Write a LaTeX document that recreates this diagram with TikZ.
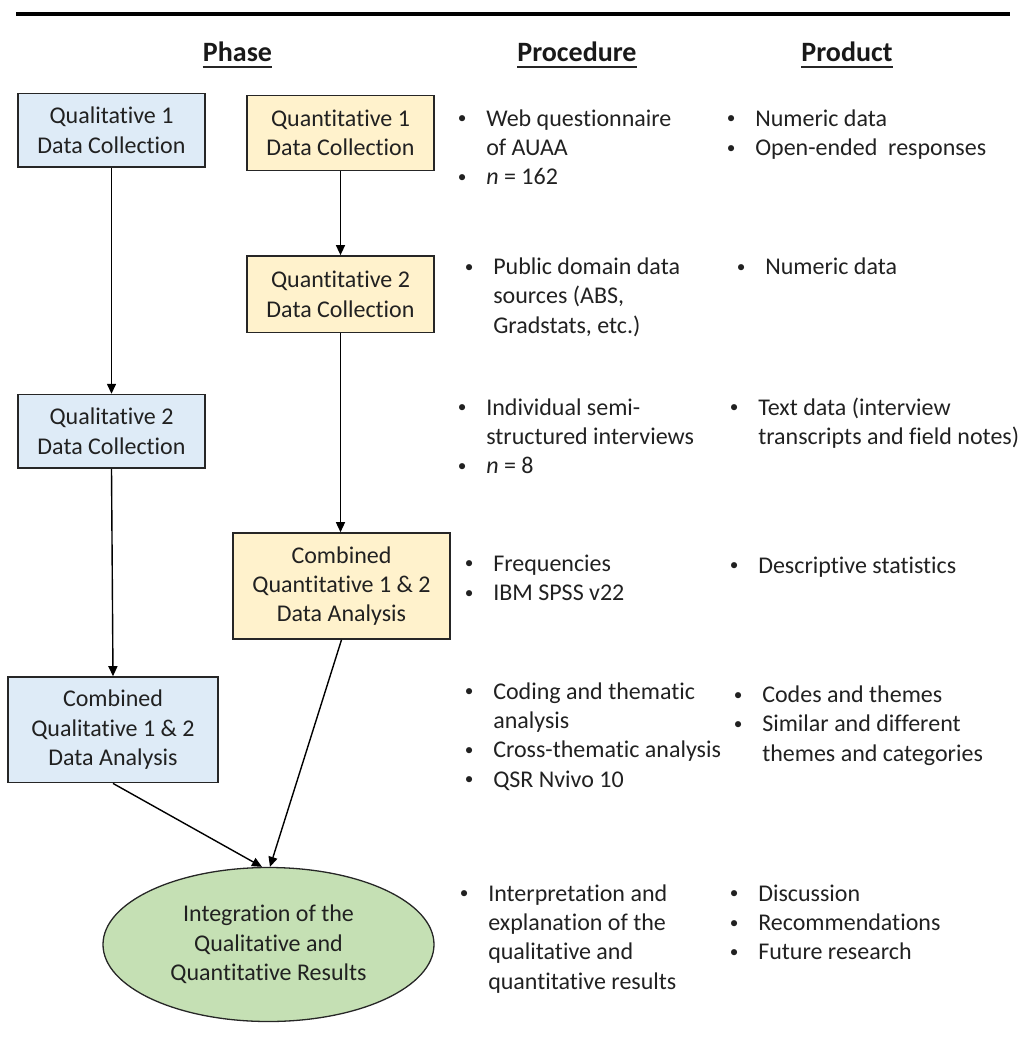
\documentclass[tikz,border=0pt]{standalone}
\usepackage{graphicx}
\usepackage{fontspec}
\setmainfont[Ligatures=NoCommon]{Carlito}
\usetikzlibrary{arrows.meta,shapes.geometric}
\newlength\pxu
\setlength\pxu{0.75pt}
% small bullet set in a fixed-width box so the item text starts at a fixed indent
\newcommand\bul{\makebox[30\pxu][l]{\hspace{1.5\pxu}\raisebox{0.2ex}{\scalebox{0.72}{\textbullet}}}}
\definecolor{qualblue}{HTML}{DEEBF7}
\definecolor{quantyellow}{HTML}{FFF2CC}
\definecolor{integgreen}{HTML}{C5E0B4}
\definecolor{edgegray}{HTML}{262626}
\tikzset{
  body/.style={font=\fontsize{18}{22}\selectfont, text=black!87},
  phasebox/.style={body, draw=edgegray, line width=1.6\pxu, align=center,
    inner sep=0pt, rectangle},
  qualbox/.style={phasebox, fill=qualblue},
  quantbox/.style={phasebox, fill=quantyellow},
  integ/.style={body, draw=edgegray, line width=1.3\pxu, fill=integgreen,
    ellipse, align=center, inner sep=0pt},
  colhead/.style={font=\fontsize{21}{25}\selectfont\bfseries, text=black!90,
    inner sep=0pt, anchor=base},
  itemlist/.style={body, inner sep=0pt, anchor=base west},
  arr/.style={draw=black, line width=1.05pt,
    -{Triangle[length=7.5pt, width=6.75pt]}},
  uline/.style={line width=1.5pt, black!85}
}
\begin{document}
\begin{tikzpicture}[x=1\pxu, y=-1\pxu]
\useasboundingbox (0,0) rectangle (1028,1049);

% top rule
\coordinate (ruleL) at (16,14);
\coordinate (ruleR) at (1010,14);
\draw[line width=3pt] (ruleL) -- (ruleR);

% column headings
\node[colhead] (hphase) at (237.5,62) {Phase};
\node[colhead] (hproc) at (577,62) {Procedure};
\node[colhead] (hprod) at (847,62) {Product};
\foreach \h in {hphase,hproc,hprod}
  \draw[uline] ([yshift=-3.75pt]\h.base west) -- ([yshift=-3.75pt]\h.base east);

% phase boxes
\node[qualbox, minimum width=187\pxu, minimum height=73.4\pxu] (q1) at (111.5,130.3)
  {Qualitative 1\\Data Collection};
\node[quantbox, minimum width=187\pxu, minimum height=75\pxu] (n1) at (340.5,133)
  {Quantitative 1\\Data Collection};
\node[quantbox, minimum width=187\pxu, minimum height=76.5\pxu] (n2) at (340.5,294.2)
  {Quantitative 2\\Data Collection};
\node[qualbox, minimum width=187\pxu, minimum height=73.4\pxu] (q2) at (111.5,431.3)
  {Qualitative 2\\Data Collection};
\node[quantbox, minimum width=217\pxu, minimum height=106\pxu] (nc) at (341.5,586)
  {Combined\\Quantitative 1 \& 2\\Data Analysis};
\node[qualbox, minimum width=209.5\pxu, minimum height=105.6\pxu] (qc) at (113,729.8)
  {Combined\\Qualitative 1 \& 2\\Data Analysis};
\node[integ, minimum width=331\pxu, minimum height=154\pxu] (ell) at (268.5,944.5)
  {Integration of the\\Qualitative and\\Quantitative Results};

% flow arrows
\draw[arr] (q1.south) -- (q2.north);
\draw[arr] (q2.south) -- (qc.north);
\draw[arr] (n1.south) -- (n2.north);
\draw[arr] (n2.south) -- (n2.south |- nc.north);
\draw[arr] (qc.south) -- ([xshift=-4.9pt]ell.north);
\draw[arr] (nc.south) -- ([xshift=1.1pt]ell.north);

% procedures
\node[itemlist] (pr1) at (456,126) {\begin{tabular}[t]{@{}l@{}l@{}}
  \bul & Web questionnaire\\ & of AUAA\\ \bul & \textit{n} = 162\end{tabular}};
\node[itemlist] (pr2) at (463,274.6) {\begin{tabular}[t]{@{}l@{}l@{}}
  \bul & Public domain data\\ & sources (ABS,\\ & Gradstats, etc.)\end{tabular}};
\node[itemlist] (pr3) at (456,415) {\begin{tabular}[t]{@{}l@{}l@{}}
  \bul & Individual semi-\\ & structured interviews\\ \bul & \textit{n} = 8\end{tabular}};
\node[itemlist] (pr4) at (463,571) {\begin{tabular}[t]{@{}l@{}l@{}}
  \bul & Frequencies\\ \bul & IBM SPSS v22\end{tabular}};
\node[itemlist] (pr5) at (463,699) {\begin{tabular}[t]{@{}l@{}l@{}}
  \bul & Coding and thematic\\ & analysis\\ \bul & Cross-thematic analysis\\
  \bul & QSR Nvivo 10\end{tabular}};
\node[itemlist] (pr6) at (458,901) {\begin{tabular}[t]{@{}l@{}l@{}}
  \bul & Interpretation and\\ & explanation of the\\ & qualitative and\\
  & quantitative results\end{tabular}};

% products
\node[itemlist] (pd1) at (725,126) {\begin{tabular}[t]{@{}l@{}l@{}}
  \bul & Numeric data\\ \bul & Open-ended\ \ responses\end{tabular}};
\node[itemlist] (pd2) at (735,274.6) {\begin{tabular}[t]{@{}l@{}l@{}}
  \bul & Numeric data\end{tabular}};
\node[itemlist] (pd3) at (728,415) {\begin{tabular}[t]{@{}l@{}l@{}}
  \bul & Text data (interview\\ & transcripts and field notes)\end{tabular}};
\node[itemlist] (pd4) at (728,573) {\begin{tabular}[t]{@{}l@{}l@{}}
  \bul & Descriptive statistics\end{tabular}};
\node[itemlist] (pd5) at (732,702.6) {\begin{tabular}[t]{@{}l@{}l@{}}
  \bul & Codes and themes\\ \bul & Similar and different\\
  & themes and categories\end{tabular}};
\node[itemlist] (pd6) at (728,901) {\begin{tabular}[t]{@{}l@{}l@{}}
  \bul & Discussion\\ \bul & Recommendations\\ \bul & Future research\end{tabular}};
\end{tikzpicture}
\end{document}
